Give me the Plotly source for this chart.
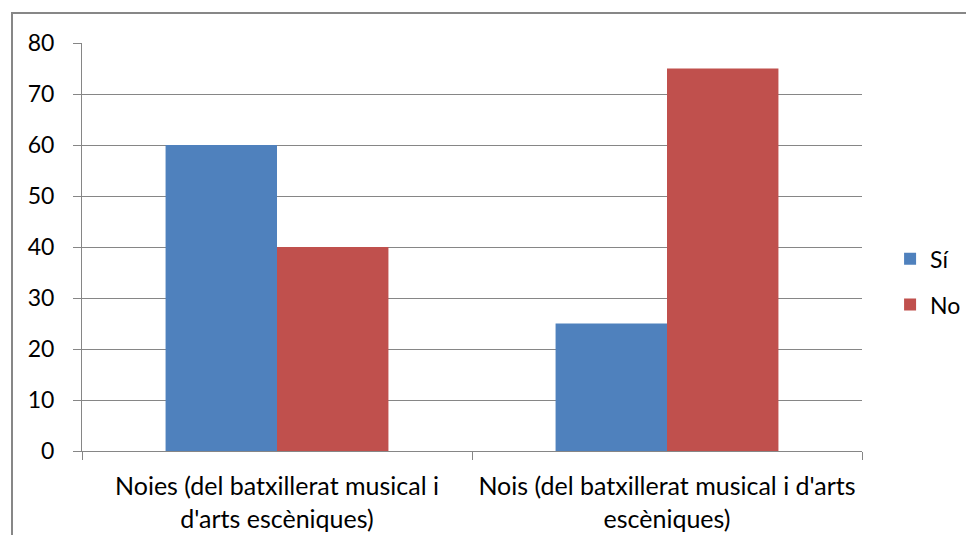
import plotly.graph_objects as go

categories = ["Noies (del batxillerat musical i<br>d'arts escèniques)",
              "Nois (del batxillerat musical i d'arts<br>escèniques)"]
si_values = [60, 25]
no_values = [40, 75]
y_ticks = [0, 10, 20, 30, 40, 50, 60, 70, 80]

FONT = "Lato"
FS = 23
GRID = "#868686"

fig = go.Figure()
fig.add_trace(go.Bar(name="Sí", x=categories, y=si_values, marker_color="#4F81BD",
                     marker_line_width=0, legendgroup="si"))
fig.add_trace(go.Bar(name="No", x=categories, y=no_values, marker_color="#C0504D",
                     marker_line_width=0, legendgroup="no"))

# page body has an 8px margin, so the figure is offset by (8, 8)
fig.update_layout(
    width=966, height=527,
    barmode="group", bargap=1.5/3.5, bargroupgap=0,
    plot_bgcolor="white", paper_bgcolor="white",
    margin=dict(l=74, r=112, t=35, b=84, autoexpand=False),
    font=dict(family=FONT, size=FS, color="black"),
    showlegend=True,
    legend=dict(x=1.036, y=0.415, xanchor="left", yanchor="middle",
                font=dict(size=FS), itemwidth=30, traceorder="grouped",
                tracegroupgap=13, bgcolor="rgba(0,0,0,0)"),
    shapes=[dict(type="rect", xref="paper", yref="paper",
                 x0=-70/780, y0=-200/408, x1=1.3, y1=1+30/408,
                 line=dict(color="#878787", width=2), layer="below")],
)
fig.update_xaxes(tickson="boundaries", ticks="outside", ticklen=8, tickcolor=GRID,
                 showline=True, linecolor=GRID, linewidth=1, showgrid=False,
                 ticklabelstandoff=13, tickangle=0, automargin=False,
                 tickfont=dict(family=FONT, size=25))
fig.update_yaxes(range=[0, 80], tickvals=y_ticks, ticks="outside", ticklen=8,
                 tickcolor=GRID, showline=True, linecolor=GRID, linewidth=1,
                 showgrid=True, gridcolor=GRID, gridwidth=1, zeroline=False,
                 ticklabelstandoff=14, automargin=False,
                 tickfont=dict(family=FONT, size=FS))

fig.write_html("out.html")
